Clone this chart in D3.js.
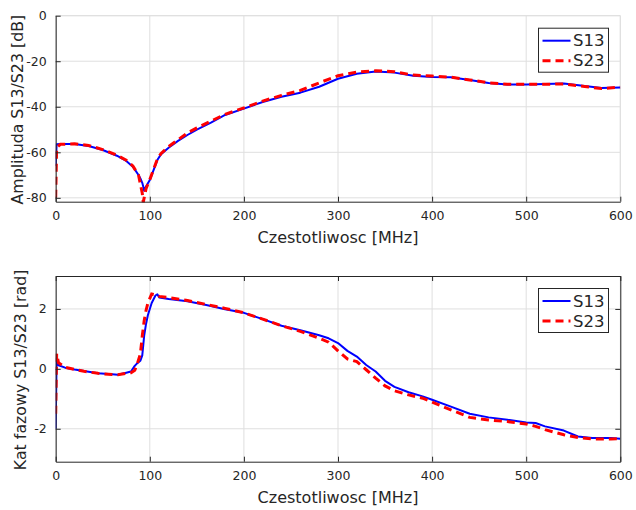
<!DOCTYPE html>
<html>
<head>
<meta charset="utf-8">
<script src="https://cdn.jsdelivr.net/npm/d3@7"></script>
<style>
  html, body { margin: 0; padding: 0; background: #fff; }
  svg { display: block; font-family: "DejaVu Sans", sans-serif; }
</style>
</head>
<body>
<svg id="chart" width="636" height="510"></svg>
<script>
// Dane
const ampFreq = [0, 1, 5, 20, 35, 50, 65, 75, 82, 88, 90, 92, 93, 94, 96, 100, 104, 108, 112, 120,
  130, 140, 150, 165, 180, 200, 220, 240, 260, 280, 300, 320, 340, 360, 380, 400, 420, 440, 460,
  480, 500, 520, 540, 560, 580, 600];
const ampS13 = [-66, -56.5, -56.4, -56.4, -57.2, -59, -61.5, -63.8, -66.3, -70, -71.5, -73.4, -75,
  -76.9, -75, -72.2, -67.8, -63.4, -60.8, -58, -55, -52.4, -50, -47, -43.6, -40.8, -37.9, -35.6,
  -33.8, -31.2, -27.7, -25.5, -24.5, -25, -26.4, -26.9, -27, -28.2, -29.6, -30.2, -30.2, -30,
  -29.8, -30.8, -31.8, -31.5];
const ampS23 = [-80, -58, -56.5, -56.3, -57, -58.8, -61.3, -63.5, -66, -70, -74, -78, -82, -80,
  -76, -72, -67.5, -63, -60.5, -57.5, -54.5, -51.5, -49.3, -46.3, -43.3, -40.5, -37.5, -35,
  -32.8, -29.5, -26.4, -24.8, -24.2, -24.6, -26.1, -26.5, -27, -28.2, -29.5, -30.1, -30.1,
  -30.1, -30, -31, -32, -31.4];

const phaseFreq = [0, 1, 3, 10, 20, 30, 45, 60, 66, 75, 80, 84, 87, 90, 92, 94, 96, 98, 102, 106,
  108, 110, 120, 140, 160, 180, 200, 220, 240, 260, 280, 290, 300, 310, 320, 330, 340, 350, 360,
  375, 390, 400, 420, 440, 460, 480, 500, 510, 520, 540, 555, 570, 590, 600];
const phaseS13 = [-2.0, 0.35, 0.12, 0.04, -0.02, -0.07, -0.15, -0.18, -0.2, -0.13, -0.09, 0.1, 0.2,
  0.27, 0.45, 1.1, 1.5, 1.8, 2.2, 2.45, 2.49, 2.38, 2.33, 2.26, 2.13, 1.99, 1.87, 1.66, 1.44,
  1.29, 1.12, 1.02, 0.86, 0.6, 0.41, 0.13, -0.09, -0.4, -0.6, -0.78, -0.92, -1.03, -1.26, -1.5,
  -1.62, -1.7, -1.79, -1.81, -1.92, -2.06, -2.26, -2.31, -2.31, -2.33];
const phaseS23 = [-1.5, 0.5, 0.2, 0.05, -0.02, -0.08, -0.15, -0.19, -0.2, -0.15, -0.13, -0.05, 0.2,
  0.5, 1.1, 1.6, 1.95, 2.2, 2.5, 2.47, 2.45, 2.42, 2.38, 2.28, 2.15, 2.02, 1.87, 1.66, 1.44,
  1.25, 1.02, 0.89, 0.6, 0.33, 0.24, -0.03, -0.31, -0.57, -0.73, -0.87, -0.98, -1.11, -1.37,
  -1.62, -1.71, -1.76, -1.84, -1.92, -2.03, -2.2, -2.29, -2.34, -2.34, -2.33];

const xTicks = [0, 100, 200, 300, 400, 500, 600];
const ampTicks = [0, -20, -40, -60, -80];
const phaseTicks = [2, 0, -2];
const seriesNames = ['S13', 'S23'];

const svg = d3.select('#chart');
const axisColor = '#262626';
const gridColor = '#dfdfdf';

function drawPanel(opts) {
  const { top, bottom, left, right, yDomain, yTicks, freq, s1, s2, yLabel, xLabelY, yLabelX, box, id } = opts;

  const x = d3.scaleLinear().domain([0, 600]).range([left, right]);
  const y = d3.scaleLinear().domain(yDomain).range([bottom, top]);
  const g = svg.append('g');

  // Siatka
  g.selectAll('line.gx').data(xTicks).enter().append('line')
    .attr('x1', d => x(d)).attr('x2', d => x(d))
    .attr('y1', top).attr('y2', bottom)
    .attr('stroke', gridColor).attr('stroke-width', 1);
  g.selectAll('line.gy').data(yTicks).enter().append('line')
    .attr('x1', left).attr('x2', right)
    .attr('y1', d => y(d)).attr('y2', d => y(d))
    .attr('stroke', gridColor).attr('stroke-width', 1);
  // krawędzie siatki (gdy brak ramki)
  if (!box) {
    g.append('line').attr('x1', left).attr('x2', right).attr('y1', top).attr('y2', top)
      .attr('stroke', gridColor);
    g.append('line').attr('x1', right).attr('x2', right).attr('y1', top).attr('y2', bottom)
      .attr('stroke', gridColor);
  }

  // Linie danych
  svg.append('clipPath').attr('id', id)
    .append('rect').attr('x', left).attr('y', top - 1)
    .attr('width', right - left).attr('height', bottom - top + 2);

  const line = (vals) => d3.line()
    .x((d, i) => x(freq[i]))
    .y(d => y(d))(vals);

  const lines = g.append('g').attr('clip-path', `url(#${id})`);
  lines.append('path').attr('d', line(s1))
    .attr('fill', 'none').attr('stroke', '#0000ff').attr('stroke-width', 2)
    .attr('stroke-linejoin', 'round');
  lines.append('path').attr('d', line(s2))
    .attr('fill', 'none').attr('stroke', '#ff0000').attr('stroke-width', 3)
    .attr('stroke-dasharray', '8,5');

  // Osie
  const xAxis = d3.axisBottom(x).tickValues(xTicks).tickSizeInner(-5).tickSizeOuter(0).tickPadding(9);
  const yAxis = d3.axisLeft(y).tickValues(yTicks).tickSizeInner(-5).tickSizeOuter(0).tickPadding(9)
    .tickFormat(d3.format('d'));

  const gx = g.append('g').attr('transform', `translate(0,${bottom})`).call(xAxis);
  const gy = g.append('g').attr('transform', `translate(${left},0)`).call(yAxis);
  [gx, gy].forEach(a => {
    a.select('.domain').attr('stroke', axisColor);
    a.selectAll('.tick line').attr('stroke', axisColor);
    a.selectAll('.tick text').attr('fill', axisColor).style('font-size', '12.5px')
      .style('font-family', '"DejaVu Sans", sans-serif');
  });
  gy.selectAll('.tick text').text(d => String(d));

  if (box) {
    const gt = g.append('g').attr('transform', `translate(0,${top})`)
      .call(d3.axisTop(x).tickValues(xTicks).tickSizeInner(-5).tickSizeOuter(0).tickFormat(''));
    const gr = g.append('g').attr('transform', `translate(${right},0)`)
      .call(d3.axisRight(y).tickValues(yTicks).tickSizeInner(-5).tickSizeOuter(0).tickFormat(''));
    [gt, gr].forEach(a => {
      a.select('.domain').attr('stroke', axisColor);
      a.selectAll('.tick line').attr('stroke', axisColor);
    });
  }

  // Etykiety osi
  g.append('text')
    .attr('x', (left + right) / 2).attr('y', xLabelY)
    .attr('text-anchor', 'middle').attr('dominant-baseline', 'central')
    .attr('fill', axisColor).style('font-size', '16px')
    .text('Czestotliwosc [MHz]');
  g.append('text')
    .attr('transform', `translate(${yLabelX},${(top + bottom) / 2 + 1}) rotate(-90)`)
    .attr('text-anchor', 'middle').attr('dominant-baseline', 'central')
    .attr('fill', axisColor).style('font-size', '15.8px')
    .text(yLabel);

  // Legenda
  const lx = 538.5, lw = 70, lh = 44;
  const ly = top + 12.5;
  const leg = g.append('g');
  leg.append('rect').attr('x', lx).attr('y', ly).attr('width', lw).attr('height', lh)
    .attr('fill', '#fff').attr('stroke', axisColor).attr('stroke-width', 1);
  seriesNames.forEach((name, i) => {
    const yy = ly + 12.5 + i * 20;
    leg.append('line').attr('x1', lx + 4).attr('x2', lx + 32).attr('y1', yy).attr('y2', yy)
      .attr('stroke', i === 0 ? '#0000ff' : '#ff0000')
      .attr('stroke-width', i === 0 ? 2 : 3)
      .attr('stroke-dasharray', i === 0 ? null : '8,5');
    leg.append('text').attr('x', lx + 34.5).attr('y', yy)
      .attr('dominant-baseline', 'central').attr('fill', axisColor)
      .style('font-size', '16.5px').text(name);
  });
}

drawPanel({
  id: 'clipAmp', top: 15.7, bottom: 201.7, left: 55.7, right: 620.3,
  yDomain: [-81.7, 0], yTicks: ampTicks, freq: ampFreq, s1: ampS13, s2: ampS23,
  yLabel: 'Amplituda S13/S23 [dB]', xLabelY: 237, yLabelX: 17.5, box: false
});

drawPanel({
  id: 'clipPhase', top: 276, bottom: 461.7, left: 55.7, right: 620.3,
  yDomain: [-3.1, 3.1], yTicks: phaseTicks, freq: phaseFreq, s1: phaseS13, s2: phaseS23,
  yLabel: 'Kat fazowy S13/S23 [rad]', xLabelY: 497, yLabelX: 20, box: true
});
</script>
</body>
</html>
